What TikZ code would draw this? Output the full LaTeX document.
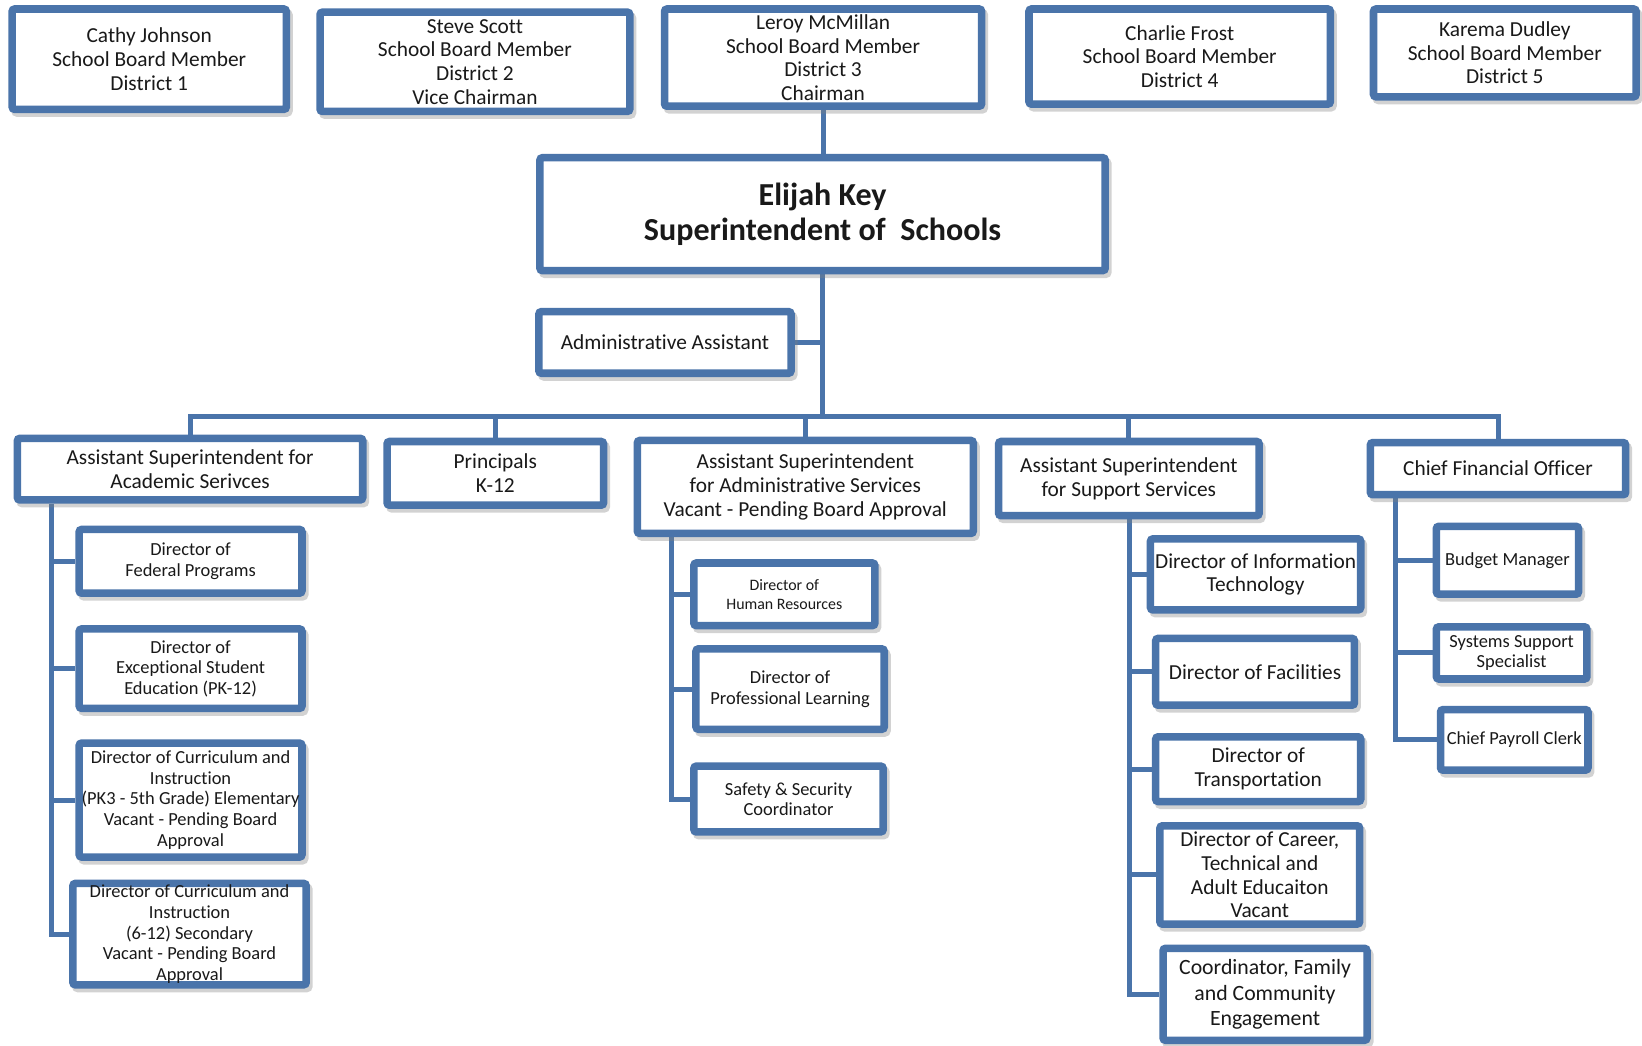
\documentclass[tikz,border=0pt]{standalone}
\usepackage{fontspec}
\setmainfont[Ligatures={NoCommon,NoContextual},RawFeature={-liga;-clig;-dlig}]{Carlito}
\usetikzlibrary{backgrounds}
\definecolor{orgblue}{RGB}{74,116,170}
\newcommand\orgfontA{\fontsize{10.2}{11.3}\selectfont}
\newcommand\orgfontB{\fontsize{8.8}{9.8}\selectfont}
\newcommand\orgfontC{\fontsize{7.6}{9}\selectfont}
\newcommand\orgfontD{\fontsize{10.4}{12.4}\selectfont}
\newcommand\orgfontH{\fontsize{15.3}{16.8}\selectfont\bfseries}
\tikzset{
  x=0.5pt, y=-0.5pt,
  obox/.style={draw=orgblue, line width=3.6pt, fill=white, rounded corners=1.2pt,
    inner sep=0pt, outer sep=0.5\pgflinewidth,
    preaction={draw=black!50, opacity=0.35, line width=3.6pt,
      transform canvas={xshift=1.3pt, yshift=-1.8pt}}},
  otext/.style={inner sep=0pt, align=center, text=black!90},
  conn/.style={draw=orgblue, line width=2.4pt},
}
% #1 name, #2-#5 outer corners (x1,y1,x2,y2), #6 font, #7 text
\newcommand\orgbox[7]{%
  \node[obox, minimum width={(#4-#2-7.2)*0.5pt}, minimum height={(#5-#3-7.2)*0.5pt}]
    (#1) at ({(#2+#4)/2},{(#3+#5)/2}) {};
  \node[otext, font=#6] (#1-t) at (#1) {#7};
}
\begin{document}
\begin{tikzpicture}
\useasboundingbox (0,0) rectangle (1568,998);

% School board
\orgbox{cathy}{8}{5}{277}{108}{\orgfontA}{Cathy Johnson\\School Board Member\\District 1}
\orgbox{steve}{302}{8}{605}{110}{\orgfontA}{Steve Scott\\School Board Member\\District 2\\Vice Chairman}
\orgbox{leroy}{631}{5}{941}{105}{\orgfontA}{Leroy McMillan\\School Board Member\\District 3\\Chairman}
\orgbox{charlie}{979}{5}{1274}{103}{\orgfontA}{Charlie Frost\\School Board Member\\District 4}
\orgbox{karema}{1308}{5}{1566}{96}{\orgfontA}{Karema Dudley\\School Board Member\\District 5}

% Superintendent and assistant
\orgbox{supt}{512}{147}{1059}{262}{\orgfontH}{Elijah Key\\Superintendent of\ \ Schools}
\orgbox{admin}{511}{294}{759}{360}{\orgfontA}{Administrative Assistant}

% Division heads
\orgbox{acad}{13}{415}{350}{481}{\orgfontA}{Assistant Superintendent for\\Academic Serivces}
\orgbox{princ}{366}{418}{580}{486}{\orgfontA}{Principals\\K-12}
\orgbox{adsv}{605}{417}{933}{513}{\orgfontA}{Assistant Superintendent\\for Administrative Services\\Vacant - Pending Board Approval}
\orgbox{supp}{950}{418}{1206}{496}{\orgfontA}{Assistant Superintendent\\for Support Services}
\orgbox{cfo}{1305}{419}{1556}{476}{\orgfontA}{Chief Financial Officer}

% Academic services
\orgbox{fed}{72}{502}{292}{570}{\orgfontB}{Director of\\Federal Programs}
\orgbox{exc}{72}{597}{292}{680}{\orgfontB}{Director of\\Exceptional Student\\Education (PK-12)}
\orgbox{cur1}{72}{706}{292}{822}{\orgfontB}{Director of Curriculum and\\Instruction\\(PK3 - 5th Grade) Elementary\\Vacant - Pending Board\\Approval}
\orgbox{cur2}{66}{840}{296}{944}{\orgfontB}{Director of Curriculum and\\Instruction\\(6-12) Secondary\\Vacant - Pending Board\\Approval}

% Administrative services
\orgbox{hr}{659}{534}{839}{601}{\orgfontC}{Director of\\Human Resources}
\orgbox{prof}{661}{616}{848}{700}{\orgfontB}{Director of\\Professional Learning}
\orgbox{safe}{659}{728}{847}{798}{\orgfontB}{Safety \& Security\\Coordinator}

% Support services
\orgbox{it}{1095}{511}{1303}{586}{\orgfontA}{Director of Information\\Technology}
\orgbox{fac}{1100}{606}{1297}{677}{\orgfontA}{Director of Facilities}
\orgbox{trans}{1100}{700}{1303}{769}{\orgfontA}{Director of\\Transportation}
\orgbox{career}{1104}{785}{1302}{886}{\orgfontA}{Director of Career,\\Technical and\\Adult Educaiton\\Vacant}
\orgbox{coord}{1107}{902}{1309}{997}{\orgfontD}{Coordinator, Family\\and Community\\Engagement}

% Finance
\orgbox{budget}{1368}{499}{1511}{571}{\orgfontB}{Budget Manager}
\orgbox{sys}{1368}{595}{1519}{652}{\orgfontB}{Systems Support\\Specialist}
\orgbox{pay}{1372}{674}{1520}{739}{\orgfontB}{Chief Payroll Clerk}

% Connectors, drawn behind the boxes
\coordinate (bus) at (786,398);
\coordinate (acadx) at (49,0);
\coordinate (adsvx) at (641,0);
\coordinate (suppx) at (1079,0);
\coordinate (cfox) at (1333,0);
\begin{scope}[on background layer]
  \fill[white] (0,0) rectangle (1568,998);
  \draw[conn] (leroy.south) -- (leroy.south |- supt.north);
  \draw[conn] (supt.south) -- (supt.south |- bus);
  \draw[conn] (admin.east) -- (admin.east -| supt.south);
  \foreach \n in {acad,princ,adsv,supp,cfo}
    \draw[conn] (\n.north) |- (bus);
  % academic services
  \draw[conn] (acad.south -| acadx) |- (cur2.west);
  \foreach \n in {fed,exc,cur1}
    \draw[conn] (\n.west -| acadx) -- (\n.west);
  % administrative services
  \draw[conn] (adsv.south -| adsvx) |- (safe.west);
  \foreach \n in {hr,prof}
    \draw[conn] (\n.west -| adsvx) -- (\n.west);
  % support services
  \draw[conn] (supp.south -| suppx) |- (coord.west);
  \foreach \n in {it,fac,trans,career}
    \draw[conn] (\n.west -| suppx) -- (\n.west);
  % finance
  \draw[conn] (cfo.south -| cfox) |- (pay.west);
  \foreach \n in {budget,sys}
    \draw[conn] (\n.west -| cfox) -- (\n.west);
\end{scope}
\end{tikzpicture}
\end{document}
